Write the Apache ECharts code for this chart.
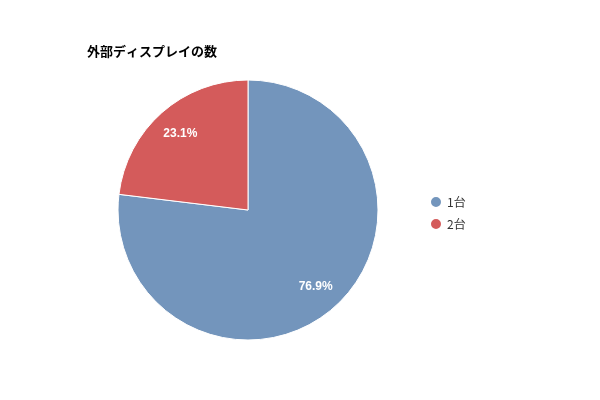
<!DOCTYPE html><html><head><meta charset="utf-8"><script src="https://cdn.jsdelivr.net/npm/echarts@6/dist/echarts.min.js"></script></head><body style="margin:0"><div id="c" style="width:600px;height:400px"></div><script>
const categories=['1台','2台'];
const values=[10,3];
const colors=['#7395bc','#d45b5b'];
const data=categories.map((n,i)=>({name:n,value:values[i],itemStyle:{color:colors[i]}}));
const font='"Noto Sans CJK JP", sans-serif';
echarts.init(document.getElementById('c')).setOption({
animation:false,
title:{text:'外部ディスプレイの数',left:82,top:40,textStyle:{fontSize:13,fontWeight:'bold',color:'#000',fontFamily:font}},
legend:{orient:'vertical',left:424,top:190,itemGap:8,icon:'circle',itemWidth:12,itemHeight:12,textStyle:{fontSize:12,color:'#333',fontFamily:font},data:categories},
series:[
{type:'pie',center:[248,210],radius:130,startAngle:90,clockwise:true,data:data,label:{show:false},itemStyle:{borderColor:'#fff',borderWidth:1},silent:true},
{type:'pie',center:[248,210],radius:198,startAngle:90,clockwise:true,percentPrecision:1,silent:true,data:data.map(d=>({name:d.name,value:d.value,itemStyle:{color:'transparent'}})),label:{show:true,position:'inside',formatter:'{d}%',color:'#fff',fontSize:12,fontWeight:'bold',fontFamily:'Liberation Sans, sans-serif'},labelLine:{show:false},legendHoverLink:false}
]});
</script></body></html>
